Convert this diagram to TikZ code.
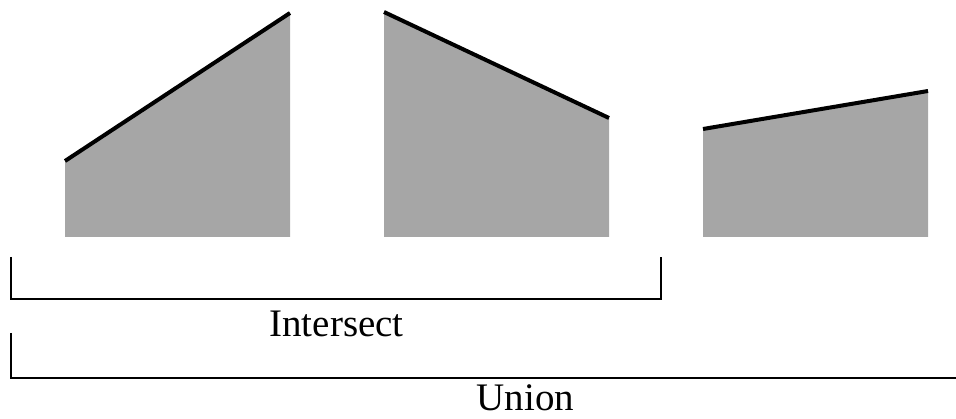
\documentclass[tikz,border=0pt]{standalone}
\usepackage{fontspec}
\setmainfont{Liberation Serif}
\usepackage{tikz}
\usetikzlibrary{positioning}

\definecolor{shade}{HTML}{A6A6A6}

\begin{document}
\begin{tikzpicture}[x=1pt, y=-1pt, line join=miter,
    region/.style={fill=shade, draw=none},
    edge/.style={line width=4pt, line cap=butt},
    brace/.style={line width=2.4pt},
    label/.style={anchor=base, inner sep=0pt, font=\fontsize{39}{42}\selectfont}]
    \useasboundingbox (0, 0) rectangle (956, 419);

    % Regions
    \fill[region] (65, 237) -- (65, 161) -- (290, 13) -- (290, 237) -- cycle;
    \fill[region] (384, 237) -- (384, 12) -- (609, 118) -- (609, 237) -- cycle;
    \fill[region] (703, 237) -- (703, 129) -- (928, 91) -- (928, 237) -- cycle;

    % Top edges
    \draw[edge] (65, 161) -- (290, 13);
    \draw[edge] (384, 12) -- (609, 118);
    \draw[edge] (703, 129) -- (928, 91);

    % Brackets
    \coordinate (i1) at (11, 257);
    \coordinate (i2) at (661, 257);
    \coordinate (u1) at (11, 333);
    \coordinate (u2) at (956, 378);
    \draw[brace] (i1) |- (661, 299) -- (i2);
    \draw[brace] (u1) |- (u2);

    % Labels
    \node[label] (inter) at (336.5, 337) {Intersect};
    \node[label] (union) at (525.5, 411) {Union};
\end{tikzpicture}
\end{document}
